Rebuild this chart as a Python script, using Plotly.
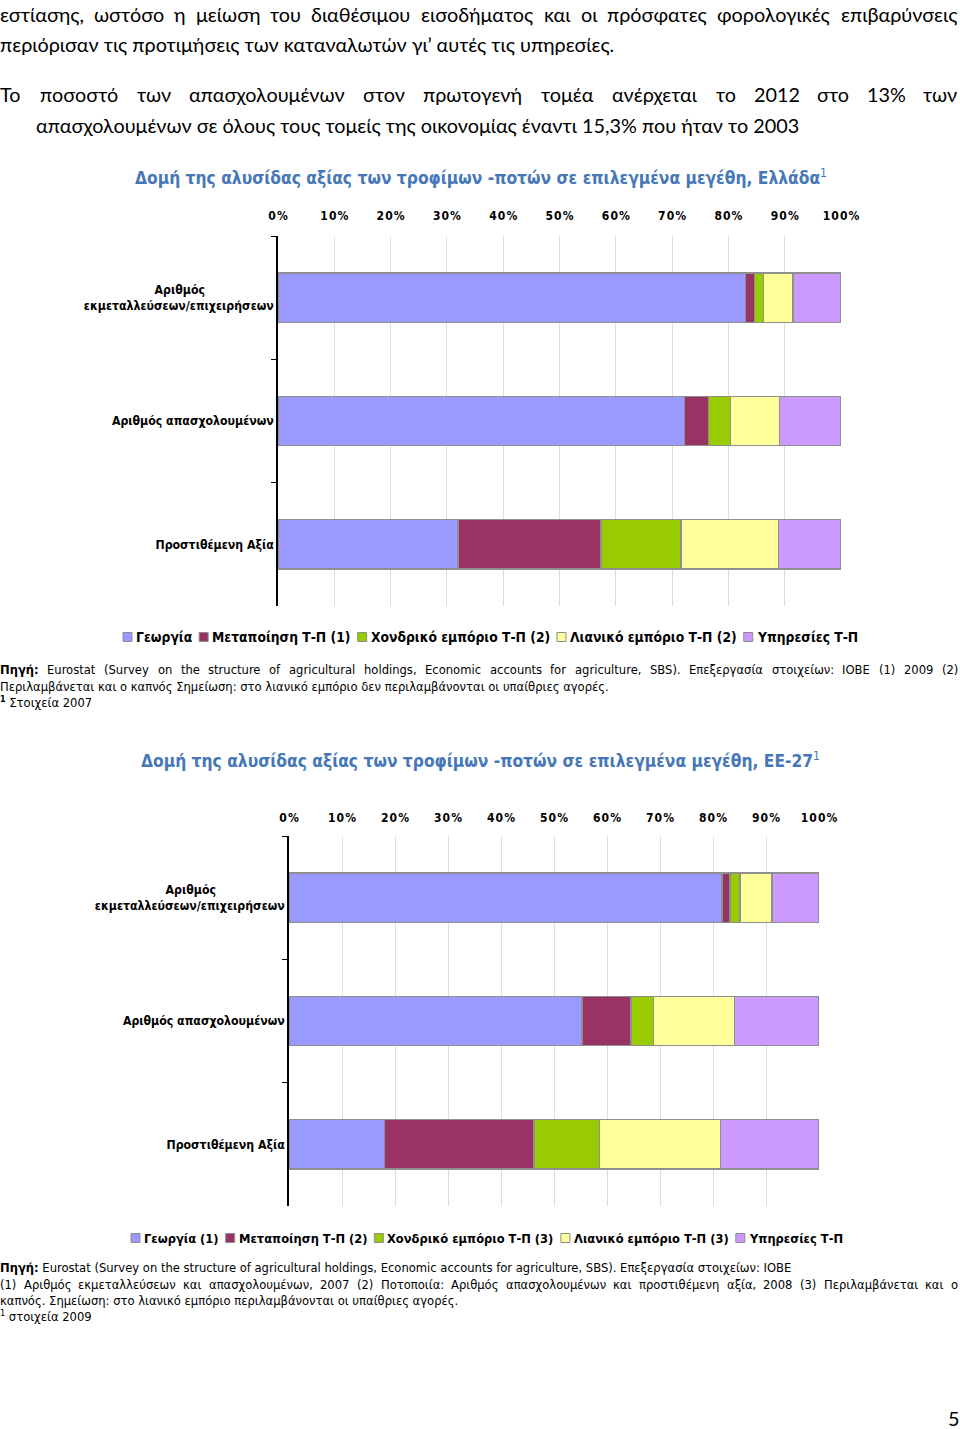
import glob
import os
import struct
import bisect
import plotly.graph_objects as go

W, H = 960, 1429

# ---------------- data ----------------
SERIES_GR = ["Γεωργία", "Μεταποίηση Τ-Π (1)", "Χονδρικό εμπόριο Τ-Π (2)",
             "Λιανικό εμπόριο Τ-Π (2)", "Υπηρεσίες Τ-Π"]
SERIES_EU = ["Γεωργία (1)", "Μεταποίηση Τ-Π (2)", "Χονδρικό εμπόριο Τ-Π (3)",
             "Λιανικό εμπόριο Τ-Π (3)", "Υπηρεσίες Τ-Π"]
COLORS = ["#9999FF", "#993366", "#99CC00", "#FFFF99", "#CC99FF"]

CAT_LINES = [["Αριθμός", "εκμεταλλεύσεων/επιχειρήσεων"],
             ["Αριθμός απασχολουμένων"],
             ["Προστιθέμενη Αξία"]]

# Greece (% shares per category)
GR_GEORGIA = [83.0, 72.2, 32.0]
GR_METAPOIISI = [1.6, 4.3, 25.4]
GR_XONDRIKO = [1.6, 3.9, 14.2]
GR_LIANIKO = [5.3, 8.7, 17.3]
GR_YPIRESIES = [8.5, 10.9, 11.1]

# EU-27 (% shares per category)
EU_GEORGIA = [81.7, 55.3, 18.0]
EU_METAPOIISI = [1.5, 9.2, 28.2]
EU_XONDRIKO = [1.9, 4.3, 12.4]
EU_LIANIKO = [6.0, 15.3, 22.8]
EU_YPIRESIES = [8.9, 15.9, 18.6]

X_TICKS = [0, 10, 20, 30, 40, 50, 60, 70, 80, 90, 100]

TITLE_GR = "Δομή της αλυσίδας αξίας των τροφίμων -ποτών σε επιλεγμένα μεγέθη, Ελλάδα"
TITLE_EU = "Δομή της αλυσίδας αξίας των τροφίμων -ποτών σε επιλεγμένα μεγέθη, ΕΕ-27"

BODY_1 = "εστίασης, ωστόσο η μείωση του διαθέσιμου εισοδήματος και οι πρόσφατες φορολογικές επιβαρύνσεις"
BODY_2 = "περιόρισαν τις προτιμήσεις των καταναλωτών γι’ αυτές τις υπηρεσίες."
BODY_3 = "Το ποσοστό των απασχολουμένων στον πρωτογενή τομέα ανέρχεται το 2012 στο 13% των"
BODY_4 = "απασχολουμένων σε όλους τους τομείς της οικονομίας έναντι 15,3% που ήταν το 2003"

NOTE_GR_1 = "Πηγή: Eurostat (Survey on the structure of agricultural holdings, Economic accounts for agriculture, SBS). Επεξεργασία στοιχείων: ΙΟΒΕ (1) 2009 (2)"
NOTE_GR_2 = "Περιλαμβάνεται και ο καπνός Σημείωση: στο λιανικό εμπόριο δεν περιλαμβάνονται οι υπαίθριες αγορές."
NOTE_GR_3 = "Στοιχεία 2007"
NOTE_EU_1 = "Eurostat (Survey on the structure of agricultural holdings, Economic accounts for agriculture, SBS). Επεξεργασία στοιχείων: ΙΟΒΕ"
NOTE_EU_2 = "(1) Αριθμός εκμεταλλεύσεων και απασχολουμένων, 2007 (2) Ποτοποιία: Αριθμός απασχολουμένων και προστιθέμενη αξία, 2008 (3) Περιλαμβάνεται και ο"
NOTE_EU_3 = "καπνός. Σημείωση: στο λιανικό εμπόριο περιλαμβάνονται οι υπαίθριες αγορές."
NOTE_EU_4 = "στοιχεία 2009"
PAGE_NO = "5"

# ---------------- font metrics (for text layout) ----------------
FONT_DIRS = ["/usr/share/fonts", "/usr/local/share/fonts",
             os.path.expanduser("~/.fonts"), os.path.expanduser("~/.local/share/fonts")]


def find_file(name):
    for d in FONT_DIRS:
        if os.path.isdir(d):
            hits = glob.glob(os.path.join(d, "**", name), recursive=True)
            if hits:
                return hits[0]
    return None


class TTF:
    def __init__(self, path):
        d = open(path, "rb").read()
        self.d = d
        n = struct.unpack(">H", d[4:6])[0]
        t = {}
        for i in range(n):
            tag, _, off, ln = struct.unpack(">4sIII", d[12 + 16 * i:28 + 16 * i])
            t[tag] = off
        self.upem = struct.unpack(">H", d[t[b"head"] + 18:t[b"head"] + 20])[0]
        nhm = struct.unpack(">H", d[t[b"hhea"] + 34:t[b"hhea"] + 36])[0]
        hm = t[b"hmtx"]
        self.adv = [struct.unpack(">H", d[hm + 4 * i:hm + 4 * i + 2])[0] for i in range(nhm)]
        cm = t[b"cmap"]
        nsub = struct.unpack(">H", d[cm + 2:cm + 4])[0]
        sub = None
        for i in range(nsub):
            pid, eid, off = struct.unpack(">HHI", d[cm + 4 + 8 * i:cm + 12 + 8 * i])
            s = cm + off
            fmt = struct.unpack(">H", d[s:s + 2])[0]
            if fmt == 4 and (pid == 0 or (pid == 3 and eid in (1, 10))):
                sub = s
                if pid == 3:
                    break
        segx2 = struct.unpack(">H", d[sub + 6:sub + 8])[0]
        seg = segx2 // 2
        self.ends = struct.unpack(">%dH" % seg, d[sub + 14:sub + 14 + segx2])
        self.starts = struct.unpack(">%dH" % seg, d[sub + 16 + segx2:sub + 16 + 2 * segx2])
        self.deltas = struct.unpack(">%dh" % seg, d[sub + 16 + 2 * segx2:sub + 16 + 3 * segx2])
        self.ro_pos = sub + 16 + 3 * segx2
        self.ros = struct.unpack(">%dH" % seg, d[self.ro_pos:self.ro_pos + segx2])

    def gid(self, ch):
        c = ord(ch)
        if c > 0xFFFF:
            return 0
        i = bisect.bisect_left(self.ends, c)
        if i >= len(self.ends) or self.starts[i] > c:
            return 0
        if self.ros[i] == 0:
            return (c + self.deltas[i]) & 0xFFFF
        a = self.ro_pos + 2 * i + self.ros[i] + 2 * (c - self.starts[i])
        g = struct.unpack(">H", self.d[a:a + 2])[0]
        return (g + self.deltas[i]) & 0xFFFF if g else 0

    def width(self, text):
        tot = 0
        for ch in text:
            g = self.gid(ch)
            tot += self.adv[g] if g < len(self.adv) else self.adv[-1]
        return tot / self.upem


def load(fname):
    p = find_file(fname)
    if not p:
        return None
    try:
        m = TTF(p)
        return m if m.gid("ω") else None
    except Exception:
        return None


class Face:
    def __init__(self, options):
        self.family = options[-1][0]
        self.reg = None
        self.bold = None
        for fam, rf, bf in options:
            r = load(rf)
            if r is not None:
                self.family = fam
                self.reg = r
                self.bold = load(bf) if bf else None
                break

    def w(self, text, size, bold=False):
        m = self.bold if (bold and self.bold is not None) else self.reg
        if m is None:
            return (0.6 if bold else 0.55) * size * len(text)
        return m.width(text) * size


BODY = Face([("Lato", "Lato-Regular.ttf", "Lato-Bold.ttf"),
             ("Open Sans", "OpenSans-Regular.ttf", "OpenSans-Bold.ttf"),
             ("Noto Sans", "NotoSans-Regular.ttf", "NotoSans-Bold.ttf"),
             ("Liberation Sans", "LiberationSans-Regular.ttf", "LiberationSans-Bold.ttf")])
NARROW = Face([("DejaVu Sans Condensed", "DejaVuSansCondensed.ttf", "DejaVuSansCondensed-Bold.ttf"),
               ("DejaVu Sans", "DejaVuSans.ttf", "DejaVuSans-Bold.ttf")])

# fitted sizes
body_size = 0.5 * (766 / BODY.w(BODY_4, 1) + 622 / BODY.w(BODY_2, 1))
title_size = 0.5 * (685 / NARROW.w(TITLE_GR, 1, True) + 673 / NARROW.w(TITLE_EU, 1, True))
legend_size_gr = 641 / sum(NARROW.w(s, 1, True) for s in SERIES_GR)
legend_size_eu = 618 / sum(NARROW.w(s, 1, True) for s in SERIES_EU)
note_size = (608 / NARROW.w(NOTE_GR_2, 1) + 459 / NARROW.w(NOTE_EU_3, 1)) / 2
cat_size = min(13.0, max(10.0, 162 / NARROW.w(CAT_LINES[1][0], 1, True)))
tick_size = 12

fig = go.Figure()


def px_x(x):
    return x / W


def px_y(y):
    return 1 - y / H


def ann(text, x, y, size, family, color="#000000", xanchor="left"):
    fig.add_annotation(text=text, x=px_x(x), y=px_y(y), xref="paper", yref="paper",
                       xanchor=xanchor, yanchor="middle", showarrow=False,
                       borderpad=0, borderwidth=0,
                       font=dict(size=size, family=family, color=color))


def justify(line, x0, x1, y, size, face, bold_first=0):
    words = line.split(" ")
    widths = [face.w(wd, size, i < bold_first) for i, wd in enumerate(words)]
    gap = (x1 - x0 - sum(widths)) / (len(words) - 1)
    x = x0
    for i, wd in enumerate(words):
        txt = "<b>%s</b>" % wd if i < bold_first else wd
        ann(txt, x, y, size, face.family)
        x += widths[i] + gap


# ---------------- body text ----------------
justify(BODY_1, 0, 958, 14, body_size, BODY)
ann(BODY_2, 0, 44, body_size, BODY.family)
justify(BODY_3, 0, 958, 94, body_size, BODY)
ann(BODY_4, 36, 125, body_size, BODY.family)

TITLE_COLOR = "#4677b8"
ann("<b>%s</b><sup>1</sup>" % TITLE_GR, 135, 177, title_size, NARROW.family, TITLE_COLOR)
ann("<b>%s</b><sup>1</sup>" % TITLE_EU, 141, 760, title_size, NARROW.family, TITLE_COLOR)


# ---------------- legends ----------------
def legend_row(names, y, xc, size):
    sw, g1, g2 = 9, 4, 7
    widths = [NARROW.w(n, size, True) for n in names]
    total = sum(sw + g1 + w for w in widths) + g2 * (len(names) - 1)
    x = xc - total / 2
    for n, c, w in zip(names, COLORS, widths):
        fig.add_shape(type="rect", xref="paper", yref="paper",
                      x0=px_x(x), x1=px_x(x + sw), y0=px_y(y + sw / 2), y1=px_y(y - sw / 2),
                      fillcolor=c, line=dict(color="#8c8c8c", width=1))
        ann("<b>%s</b>" % n, x + sw + g1, y, size, NARROW.family)
        x += sw + g1 + w + g2


legend_row(SERIES_GR, 637, 490, legend_size_gr)
legend_row(SERIES_EU, 1238, 486.5, legend_size_eu)

# ---------------- notes ----------------
justify(NOTE_GR_1, 0, 958, 669, note_size, NARROW, bold_first=1)
ann(NOTE_GR_2, 0, 686, note_size, NARROW.family)
ann("<b><sup>1</sup></b> " + NOTE_GR_3, 0, 702, note_size, NARROW.family)
ann("<b>Πηγή:</b> " + NOTE_EU_1, 0, 1267, note_size, NARROW.family)
justify(NOTE_EU_2, 0, 958, 1284, note_size, NARROW)
ann(NOTE_EU_3, 0, 1300, note_size, NARROW.family)
ann("<sup>1</sup> " + NOTE_EU_4, 0, 1316, note_size, NARROW.family)
ann(PAGE_NO, 959, 1418, body_size, BODY.family, xanchor="right")

# ---------------- charts ----------------
nbsp_w = NARROW.w("\u00a0", cat_size, True)


def cat_label(lines):
    if len(lines) == 1:
        return lines[0]
    w0 = NARROW.w(lines[0], cat_size, True)
    w1 = NARROW.w(lines[1], cat_size, True)
    pad = int(round((w1 - w0) / 2 / nbsp_w)) if nbsp_w > 0 else 0
    return lines[0] + "\u00a0" * max(pad, 0) + "<br>" + lines[1]


CATS = [cat_label(c) for c in CAT_LINES]
GR_VALUES = [GR_GEORGIA, GR_METAPOIISI, GR_XONDRIKO, GR_LIANIKO, GR_YPIRESIES]
EU_VALUES = [EU_GEORGIA, EU_METAPOIISI, EU_XONDRIKO, EU_LIANIKO, EU_YPIRESIES]

for vals, names, xa, ya in [(GR_VALUES, SERIES_GR, "x", "y"), (EU_VALUES, SERIES_EU, "x2", "y2")]:
    for v, n, c in zip(vals, names, COLORS):
        fig.add_trace(go.Bar(x=v, y=CATS, name=n, orientation="h", xaxis=xa, yaxis=ya,
                             marker=dict(color=c, line=dict(color="#8f8f8f", width=1.5)),
                             showlegend=False, hoverinfo="x+name"))

HS = "\u200a"
tick_text = [HS.join(list("%d%%" % v)) for v in X_TICKS]


def xaxis(domain, anchor, standoff):
    return dict(domain=domain, anchor=anchor, range=[0, 100], side="top",
                tickmode="array", tickvals=X_TICKS, ticktext=tick_text,
                showgrid=True, gridcolor="#dedede", gridwidth=1, zeroline=False,
                showline=False, ticks="", ticklabelstandoff=standoff, automargin=False,
                tickfont=dict(family=NARROW.family, size=tick_size, color="#000", weight="bold"),
                fixedrange=True)


def yaxis(domain, anchor):
    return dict(domain=domain, anchor=anchor, type="category",
                categoryorder="array", categoryarray=CATS, range=[2.5, -0.5],
                showline=True, linecolor="#000000", linewidth=1.5,
                ticks="outside", ticklen=5, tickwidth=1, tickcolor="#000000",
                tickson="boundaries", showgrid=False, zeroline=False, automargin=False,
                tickfont=dict(family=NARROW.family, size=cat_size, color="#000", weight="bold"),
                fixedrange=True)


fig.update_layout(
    width=W, height=H, autosize=False,
    margin=dict(l=0, r=0, t=0, b=0, pad=0, autoexpand=False),
    paper_bgcolor="white", plot_bgcolor="white",
    barmode="stack", bargap=0.6, showlegend=False,
    xaxis=xaxis([278 / W, 841 / W], "y", 13),
    yaxis=yaxis([1 - 606 / H, 1 - 236 / H], "x"),
    xaxis2=xaxis([289 / W, 819 / W], "y2", 11),
    yaxis2=yaxis([1 - 1206 / H, 1 - 836 / H], "x2"),
)

fig.write_html("out.html",
               config={"displayModeBar": False, "responsive": False},
               post_script="document.body.style.margin='0';document.documentElement.style.overflow='hidden';")
